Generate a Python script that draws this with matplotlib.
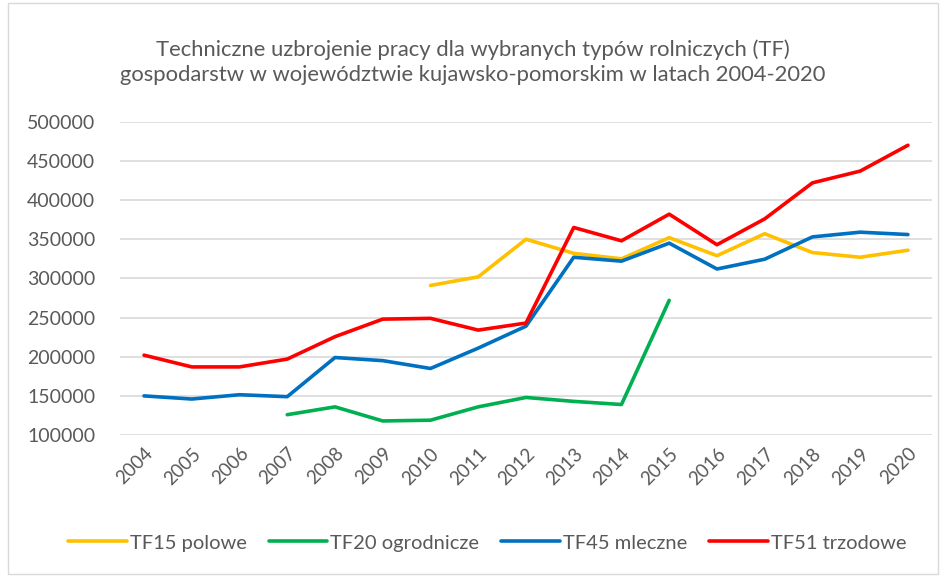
import numpy as np
import matplotlib.pyplot as plt
from matplotlib.patches import Rectangle

years = [str(y) for y in range(2004, 2021)]
nan = np.nan

tf15_polowe = [nan, nan, nan, nan, nan, nan, 291000, 302000, 350000, 332000,
               325000, 352000, 329000, 357000, 333000, 327000, 336000]
tf20_ogrodnicze = [nan, nan, nan, 126000, 136000, 118000, 119000, 136000, 148000,
                   143000, 139000, 272000, nan, nan, nan, nan, nan]
tf45_mleczne = [150000, 146000, 151500, 149000, 199000, 195000, 185000, 211000,
                239000, 327000, 322000, 345000, 312000, 324500, 353000, 359000, 356000]
tf51_trzodowe = [202000, 187000, 187000, 197000, 225600, 248000, 249000, 234000,
                 243000, 365000, 348000, 382000, 343000, 376000, 422000, 437000, 470000]

series = [
    ('TF15 polowe', tf15_polowe, '#FFC000'),
    ('TF20 ogrodnicze', tf20_ogrodnicze, '#00B050'),
    ('TF45 mleczne', tf45_mleczne, '#0070C0'),
    ('TF51 trzodowe', tf51_trzodowe, '#FF0000'),
]

plt.rcParams['font.family'] = ['Lato', 'DejaVu Sans']
txt = '#595959'

fig = plt.figure(figsize=(9.46, 5.77), dpi=100)
ax = fig.add_axes([0.127, 0.246, 0.858, 0.543])

x = np.arange(len(years))
for name, vals, col in series:
    ax.plot(x, vals, color=col, lw=2.6, label=name, solid_capstyle='round')

ax.set_xlim(-0.5, len(years) - 0.5)
ax.set_ylim(100000, 500000)
ax.set_yticks(range(100000, 500001, 50000))
ax.set_yticklabels([str(v) for v in range(100000, 500001, 50000)])
ax.set_xticks(x)
ax.set_xticklabels(years, rotation=45, ha='right', rotation_mode='anchor')
ax.yaxis.grid(True, color='#D9D9D9', lw=1.2)
ax.set_axisbelow(True)
for s in ax.spines.values():
    s.set_visible(False)
ax.tick_params(axis='both', length=0, colors=txt)
ax.tick_params(axis='y', labelsize=14, pad=18)
ax.tick_params(axis='x', labelsize=13.5, pad=7)

fig.suptitle('Techniczne uzbrojenie pracy dla wybranych typów rolniczych (TF)\n'
             'gospodarstw w województwie kujawsko-pomorskim w latach 2004-2020',
             y=0.932, fontsize=15.8, color=txt, linespacing=1.35)

fig.legend(loc='center', bbox_to_anchor=(0.515, 0.059), ncol=4, frameon=False,
           fontsize=14.5, handlelength=2.9, columnspacing=1.1, handletextpad=0.15,
           labelcolor=txt)

fig.patches.append(Rectangle((0.008, 0.005), 0.984, 0.99, transform=fig.transFigure,
                             fill=False, edgecolor='#D9D9D9', lw=1))

fig.savefig('out.png', dpi=100)
